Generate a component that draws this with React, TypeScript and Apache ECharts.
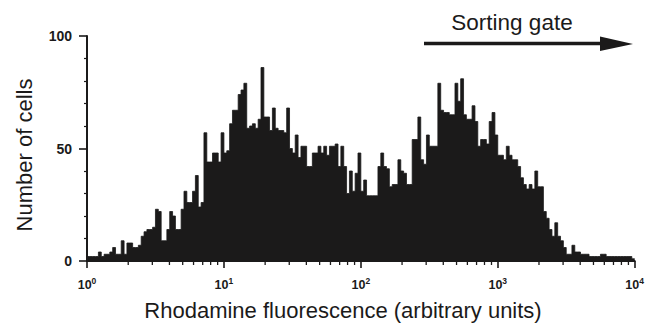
import { useEffect, useRef } from 'react';
import * as echarts from 'echarts';

const INK = '#1b1a1a';
const FONT = '"Liberation Sans", Arial, sans-serif';

// Histogram: 48 channels per decade over 10^0 .. 10^4 (192 channels), counts per channel
const BINS_PER_DECADE = 48;
const counts = [
  2, 2, 2, 2, 4, 2, 3, 3, 4, 6,
  3, 3, 9, 3, 8, 8, 6, 6, 7, 11,
  13, 14, 14, 15, 23, 22, 9, 9, 14, 22,
  20, 14, 14, 23, 31, 26, 26, 31, 38, 24,
  26, 57, 44, 44, 48, 48, 44, 57, 48, 49,
  61, 67, 67, 74, 76, 79, 59, 60, 61, 59,
  63, 86, 64, 64, 58, 68, 59, 58, 58, 57,
  68, 50, 48, 56, 46, 51, 51, 42, 42, 48,
  48, 51, 48, 51, 47, 51, 51, 52, 42, 51,
  42, 30, 40, 31, 39, 48, 31, 36, 29, 29,
  29, 29, 42, 48, 42, 41, 33, 34, 34, 45,
  40, 39, 34, 34, 54, 54, 64, 45, 43, 56,
  51, 51, 51, 79, 67, 66, 66, 65, 65, 79,
  71, 81, 65, 63, 63, 69, 62, 51, 54, 54,
  52, 62, 66, 56, 47, 47, 45, 51, 47, 45,
  45, 42, 37, 34, 32, 34, 32, 40, 33, 33,
  22, 19, 14, 11, 17, 11, 9, 6, 3, 3,
  7, 4, 4, 3, 3, 3, 2, 2, 2, 2,
  3, 3, 2, 2, 2, 2, 2, 2, 2, 2,
  2, 1,
];

const decades = [0, 1, 2, 3];
const minorMultipliers = [2, 3, 4, 5, 6, 7, 8, 9];
const yLabels = [0, 50, 100];

const xTitle = 'Rhodamine fluorescence (arbitrary units)';
const yTitle = 'Number of cells';
const gateLabel = 'Sorting gate';

export default function App() {
  const ref = useRef<HTMLDivElement>(null);

  useEffect(() => {
    const chart = echarts.init(ref.current!, null, { renderer: 'svg' });

    const histData: number[][] = counts.map((c, i) => [i / BINS_PER_DECADE, c]);
    histData.push([counts.length / BINS_PER_DECADE, counts[counts.length - 1]]);

    const minorTicks: number[][] = [];
    decades.forEach((d) => minorMultipliers.forEach((m) => minorTicks.push([d + Math.log10(m), 0])));

    chart.setOption({
      animation: false,
      backgroundColor: '#fff',
      grid: { left: 87, right: 12, top: 36, bottom: 67 },
      xAxis: {
        type: 'value',
        min: 0,
        max: 4,
        interval: 1,
        axisLine: { lineStyle: { color: INK, width: 2 } },
        axisTick: { length: 7, lineStyle: { color: INK, width: 1.6 } },
        splitLine: { show: false },
        axisLabel: {
          margin: 15,
          formatter: (v: number) => `{b|10}{s|${v}}`,
          rich: {
            b: { fontSize: 12.5, fontWeight: 'bold', fontFamily: FONT, color: INK, verticalAlign: 'bottom', lineHeight: 15 },
            s: { fontSize: 8.5, fontWeight: 'bold', fontFamily: FONT, color: INK, verticalAlign: 'top', lineHeight: 8 },
          },
        },
      },
      yAxis: {
        type: 'value',
        min: 0,
        max: 100,
        interval: 50,
        axisLine: { show: true, lineStyle: { color: INK, width: 2 } },
        axisTick: { show: true, length: 8, lineStyle: { color: INK, width: 1.6 } },
        minorTick: { show: true, splitNumber: 5, length: 3, lineStyle: { color: INK, width: 1.2 } },
        splitLine: { show: false },
        minorSplitLine: { show: false },
        axisLabel: {
          margin: 15,
          color: INK,
          fontSize: 14,
          fontWeight: 'bold',
          fontFamily: FONT,
          formatter: (v: number) => (yLabels.includes(v) ? String(v) : ''),
        },
      },
      series: [
        {
          type: 'line',
          step: 'end',
          data: histData,
          symbol: 'none',
          lineStyle: { color: INK, width: 0.8 },
          areaStyle: { color: INK, opacity: 1 },
          z: 2,
        },
        {
          type: 'custom',
          data: minorTicks,
          clip: false,
          silent: true,
          z: 3,
          renderItem: (_params: any, api: any) => {
            const p = api.coord([api.value(0), api.value(1)]);
            return {
              type: 'line',
              shape: { x1: p[0], y1: p[1], x2: p[0], y2: p[1] + 4 },
              style: { stroke: INK, lineWidth: 1.3 },
            };
          },
        },
      ],
      graphic: [
        {
          type: 'text',
          x: 343,
          y: 310.5,
          style: {
            text: xTitle,
            fill: INK,
            fontSize: 22,
            fontFamily: FONT,
            align: 'center',
            verticalAlign: 'middle',
          },
        },
        {
          type: 'text',
          x: 24,
          y: 155,
          rotation: Math.PI / 2,
          style: {
            text: yTitle,
            fill: INK,
            fontSize: 22,
            fontFamily: FONT,
            align: 'center',
            verticalAlign: 'middle',
          },
        },
        {
          type: 'text',
          x: 512,
          y: 22,
          style: {
            text: gateLabel,
            fill: INK,
            fontSize: 22.5,
            fontFamily: FONT,
            align: 'center',
            verticalAlign: 'middle',
          },
        },
        {
          type: 'line',
          shape: { x1: 424, y1: 43.5, x2: 604, y2: 43.5 },
          style: { stroke: INK, lineWidth: 3.5 },
        },
        {
          type: 'polygon',
          shape: { points: [[600, 36.5], [633, 44], [600, 51]] },
          style: { fill: INK },
        },
      ],
    });

    return () => chart.dispose();
  }, []);

  return (
    <div
      ref={ref}
      style={{ position: 'fixed', left: 0, top: 0, width: 647, height: 328, background: '#fff' }}
    />
  );
}
